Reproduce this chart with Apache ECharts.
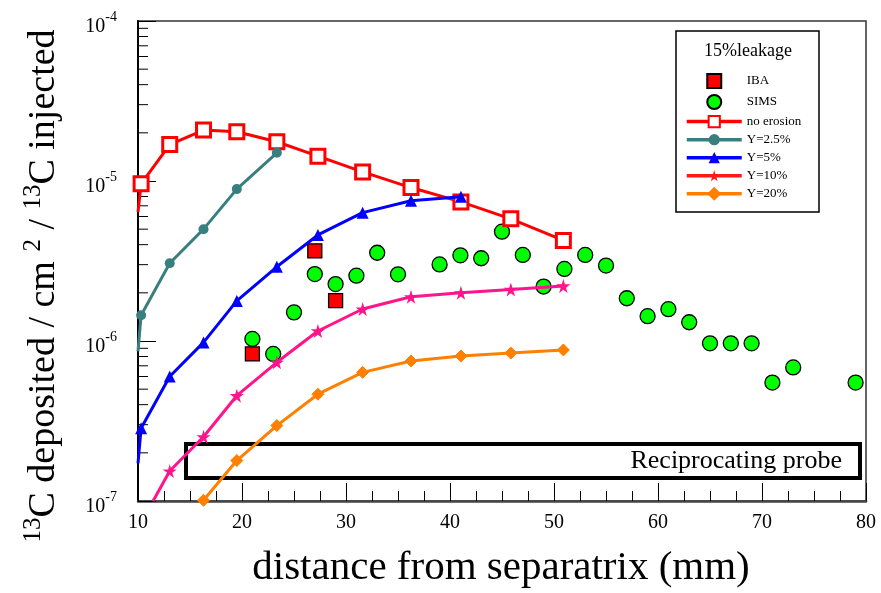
<!DOCTYPE html>
<html>
<head>
<meta charset="utf-8">
<script src="https://cdn.jsdelivr.net/npm/echarts@6/dist/echarts.min.js"></script>
<style>
  html, body { margin: 0; padding: 0; background: #fff; }
  #chart { width: 881px; height: 593px; }
</style>
</head>
<body>
<div id="chart"></div>
<script>
// Distances (mm) at which the deposition model was evaluated
const modelX = [10.3, 13.05, 16.3, 19.5, 23.35, 27.3, 31.6, 36.25, 41.05, 45.85, 50.9];

// Modelled 13C deposition per injected 13C, one array per erosion yield
const noErosion = [9.6e-6, 1.69e-5, 2.08e-5, 2.03e-5, 1.76e-5, 1.43e-5, 1.14e-5, 9.1e-6, 7.4e-6, 5.8e-6, 4.25e-6];
const yield2p5 = [1.45e-6, 3.06e-6, 5.0e-6, 8.9e-6, 1.5e-5];
const yield5 = [2.85e-7, 6.0e-7, 9.8e-7, 1.78e-6, 2.91e-6, 4.6e-6, 6.34e-6, 7.53e-6, 7.98e-6];
const yield10 = [1.54e-7, 2.52e-7, 4.55e-7, 7.36e-7, 1.155e-6, 1.585e-6, 1.89e-6, 2.0e-6, 2.1e-6, 2.21e-6];
const yield20 = [1.01e-7, 1.79e-7, 2.96e-7, 4.65e-7, 6.37e-7, 7.5e-7, 8.06e-7, 8.41e-7, 8.79e-7];

// Where each model curve begins (drawn without a marker)
const noErosionStart = [10, 6.4e-6];
const yield2p5Start = [10, 8.6e-7];
const yield5Start = [10, 1.72e-7];
const yield10Start = [11.45, 1.0e-7];

// Measurements
const ibaX = [21, 27, 29];
const ibaY = [8.3e-7, 3.66e-6, 1.79e-6];
const simsX = [21, 23, 25, 27, 29, 31, 33, 35, 39, 41, 43, 45, 47, 49, 51, 53, 55, 57, 59, 61, 63, 65, 67, 69, 71, 73, 79];
const simsY = [1.03e-6, 8.3e-7, 1.51e-6, 2.62e-6, 2.27e-6, 2.56e-6, 3.56e-6, 2.61e-6, 3.01e-6, 3.43e-6, 3.29e-6, 4.82e-6, 3.45e-6, 2.19e-6, 2.82e-6, 3.45e-6, 2.96e-6, 1.85e-6, 1.43e-6, 1.58e-6, 1.31e-6, 9.67e-7, 9.67e-7, 9.67e-7, 5.5e-7, 6.84e-7, 5.5e-7];

// Log-axis minor ticks: mantissas 2..9 in each decade
const minorMantissas = [2, 3, 4, 5, 6, 7, 8, 9];
const minorDecades = [-7, -6, -5];

const SERIF = '"Liberation Serif", "DejaVu Serif", serif';
const STAR = 'path://M50,0 L61,35 L98,35 L68,57 L79,91 L50,70 L21,91 L32,57 L2,35 L39,35 Z';
const SQUARE = 'path://M0,0 L10,0 L10,10 L0,10 Z';

function curve(start, xs, ys, offset) {
  const pts = [];
  if (start) pts.push({ value: start, symbol: 'none' });
  ys.forEach((y, i) => pts.push([xs[i + offset], y]));
  return pts;
}

const minorTicks = [];
minorDecades.forEach(d => minorMantissas.forEach(m => minorTicks.push([10, m * Math.pow(10, d)])));

const chart = echarts.init(document.getElementById('chart'), null, { renderer: 'canvas' });

const option = {
  backgroundColor: '#fff',
  animation: false,
  grid: {
    left: 138, right: 15, top: 21, bottom: 92,
    show: true, borderColor: '#333', borderWidth: 1.5, backgroundColor: 'transparent'
  },
  xAxis: {
    type: 'value', min: 10, max: 80, interval: 10,
    axisLine: { show: true, lineStyle: { color: '#444', width: 2.5 } },
    axisTick: { show: true, inside: true, length: 18, lineStyle: { color: '#000', width: 1 } },
    minorTick: { show: true, splitNumber: 4, length: 10, lineStyle: { color: '#000', width: 1 } },
    splitLine: { show: false },
    axisLabel: { color: '#000', fontFamily: SERIF, fontSize: 20, margin: 12 }
  },
  yAxis: {
    type: 'log', logBase: 10, min: 1e-7, max: 1e-4,
    axisLine: { show: true, lineStyle: { color: '#000', width: 2 } },
    axisTick: { show: true, inside: true, length: 18, lineStyle: { color: '#000', width: 1 } },
    splitLine: { show: false },
    axisLabel: {
      margin: 21,
      formatter: v => '{b|10}{s|' + Math.round(Math.log10(v)) + '}',
      rich: {
        b: { fontFamily: SERIF, fontSize: 20, color: '#000', padding: [12, 0, 0, 0] },
        s: { fontFamily: SERIF, fontSize: 14, color: '#000', padding: [0, 0, 8, 0] }
      }
    }
  },
  legend: {
    orient: 'vertical', left: 680, top: 68,
    itemWidth: 55, itemHeight: 14, itemGap: 5,
    lineStyle: { width: 3.5 },
    textStyle: { fontFamily: SERIF, fontSize: 13, color: '#000' },
    data: [
      { name: 'IBA', icon: SQUARE },
      'SIMS', 'no erosion', 'Y=2.5%', 'Y=5%',
      { name: 'Y=10%', itemStyle: { color: '#ff1a1a' }, lineStyle: { color: '#ff1a1a' } },
      'Y=20%'
    ]
  },
  graphic: [
    { type: 'rect', shape: { x: 676, y: 31, width: 143, height: 181 },
      style: { fill: '#fff', stroke: '#000', lineWidth: 1.5 }, z: -1 },
    { type: 'text', x: 748, y: 51,
      style: { text: '15%leakage', font: '18px ' + SERIF, fill: '#000', align: 'center', verticalAlign: 'middle' } },
    { type: 'rect', shape: { x: 186, y: 444, width: 674, height: 34 },
      style: { fill: '#fff', stroke: '#000', lineWidth: 4 }, z: 1 },
    { type: 'text', x: 842, y: 461,
      style: { text: 'Reciprocating probe', font: '26px ' + SERIF, fill: '#000', align: 'right', verticalAlign: 'middle' }, z: 2 },
    { type: 'text', x: 501, y: 568,
      style: { text: 'distance from separatrix (mm)', font: '41px ' + SERIF, fill: '#000', align: 'center', verticalAlign: 'middle' } },
    { type: 'text', x: 44, y: 286, rotation: Math.PI / 2,
      style: {
        text: '{s|13}{m|C deposited / cm }{s|2}{m| / }{s|13}{m|C injected}',
        align: 'center', verticalAlign: 'middle', fill: '#000',
        rich: {
          m: { font: '38px ' + SERIF, fill: '#000' },
          s: { font: '25px ' + SERIF, fill: '#000', padding: [0, 0, 22, 0] }
        }
      } }
  ],
  series: [
    {
      name: 'IBA', type: 'scatter', symbol: 'rect', symbolSize: 14, z: 3,
      itemStyle: { color: '#ff0000', borderColor: '#000', borderWidth: 1.3, opacity: 1 },
      data: ibaX.map((x, i) => [x, ibaY[i]])
    },
    {
      name: 'SIMS', type: 'scatter', symbol: 'circle', symbolSize: 15, z: 3,
      itemStyle: { color: '#00ff00', borderColor: '#000', borderWidth: 1.3, opacity: 1 },
      data: simsX.map((x, i) => [x, simsY[i]])
    },
    {
      name: 'no erosion', type: 'line', symbol: 'rect', symbolSize: 14, showAllSymbol: true, z: 4,
      lineStyle: { color: '#ff0000', width: 3 },
      itemStyle: { color: '#fff', borderColor: '#ff0000', borderWidth: 3 },
      data: curve(noErosionStart, modelX, noErosion, 0)
    },
    {
      name: 'Y=2.5%', type: 'line', symbol: 'circle', symbolSize: 10, showAllSymbol: true, z: 5,
      lineStyle: { color: '#3a7f80', width: 3 },
      itemStyle: { color: '#3a7f80' },
      data: curve(yield2p5Start, modelX, yield2p5, 0)
    },
    {
      name: 'Y=5%', type: 'line', symbol: 'triangle', symbolSize: 12, showAllSymbol: true, z: 6,
      lineStyle: { color: '#0000ff', width: 3 },
      itemStyle: { color: '#0000ff' },
      data: curve(yield5Start, modelX, yield5, 0)
    },
    {
      name: 'Y=10%', type: 'line', symbol: STAR, symbolSize: 14, showAllSymbol: true, z: 7,
      lineStyle: { color: '#ff148c', width: 3 },
      itemStyle: { color: '#ff148c' },
      data: curve(yield10Start, modelX, yield10, 1)
    },
    {
      name: 'Y=20%', type: 'line', symbol: 'diamond', symbolSize: 12, showAllSymbol: true, z: 8,
      lineStyle: { color: '#ff8000', width: 3 },
      itemStyle: { color: '#ff8000', borderColor: '#ff8000', borderWidth: 1 },
      data: curve(null, modelX, yield20, 2)
    },
    {
      name: 'minor ticks', type: 'custom', silent: true, clip: false, z: 2,
      renderItem: (params, api) => {
        const p = api.coord([api.value(0), api.value(1)]);
        return { type: 'line', shape: { x1: p[0], y1: p[1], x2: p[0] + 10, y2: p[1] },
                 style: { stroke: '#000', lineWidth: 1 } };
      },
      data: minorTicks
    }
  ]
};

chart.setOption(option);
</script>
</body>
</html>
